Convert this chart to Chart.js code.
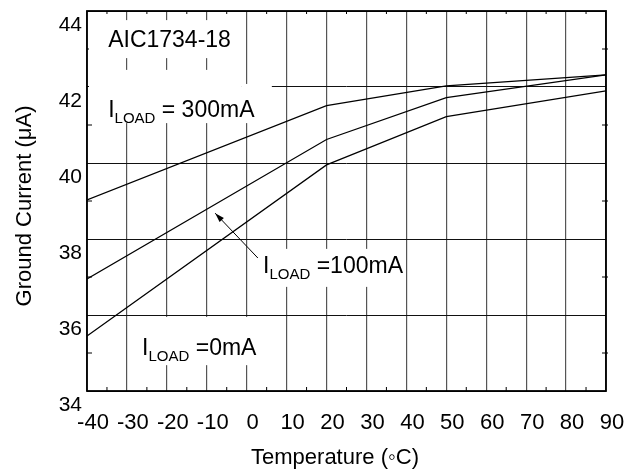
<!DOCTYPE html>
<html>
<head>
<meta charset="utf-8">
<script src="https://cdn.jsdelivr.net/npm/chart.js@4"></script>
<style>
    body { margin: 0; background: #fff; }
    canvas { display: block; }
</style>
</head>
<body>
<canvas id="grafico" width="640" height="474"></canvas>
<script>
const temperaturas = [-40, 20, 50, 90];
const corrente0mA = [35.45, 39.95, 41.22, 41.90];
const corrente100mA = [36.95, 40.62, 41.72, 42.32];
const corrente300mA = [39.03, 41.51, 42.03, 42.32];

const tituloX = "Temperature (◦C)";
const tituloY = "Ground Current (μA)";

const fonte = "Arial, 'Liberation Sans', Helvetica, sans-serif";

function pontos(valores) {
    return temperaturas.map((t, i) => ({ x: t, y: valores[i] }));
}

function serie(valores) {
    return {
        data: pontos(valores),
        borderColor: "#000",
        borderWidth: 1.2,
        pointRadius: 0,
        tension: 0,
        fill: false
    };
}

// caixas brancas atras dos textos (em unidades dos eixos)
const caixas = [
    [-39.5, -1.4, 43.76, 42.76],
    [-39.5, -1.4, 42.45, 41.05],
    [-1.4, 6.3, 42.08, 41.05],
    [1.1, 38.4, 37.74, 36.74],
    [-28, 2.3, 35.95, 34.68]
];

function textoILoad(ctx, x, y, resto) {
    ctx.font = "23px " + fonte;
    ctx.fillText("I", x, y);
    let w = ctx.measureText("I").width;
    ctx.font = "15px " + fonte;
    ctx.fillText("LOAD", x + w, y + 6);
    w += ctx.measureText("LOAD").width;
    ctx.font = "23px " + fonte;
    ctx.fillText(resto, x + w, y);
}

const anotacoes = {
    id: "anotacoes",
    beforeDatasetsDraw(chart) {
        const ctx = chart.ctx;
        const xs = chart.scales.x;
        const ys = chart.scales.y;
        const area = chart.chartArea;
        ctx.save();

        // ticks menores
        ctx.strokeStyle = "#000";
        ctx.lineWidth = 1;
        ctx.beginPath();
        for (let v = 35; v < 44; v += 2) {
            const py = ys.getPixelForValue(v);
            ctx.moveTo(area.left, py);
            ctx.lineTo(area.left + 5, py);
            ctx.moveTo(area.right - 4, py);
            ctx.lineTo(area.right + 2, py);
        }
        for (let v = -35; v < 90; v += 10) {
            const px = xs.getPixelForValue(v);
            ctx.moveTo(px, area.bottom);
            ctx.lineTo(px, area.bottom - 4);
            ctx.moveTo(px, area.top);
            ctx.lineTo(px, area.top + 3);
        }
        ctx.stroke();

        ctx.fillStyle = "#fff";
        caixas.forEach(c => {
            const x1 = xs.getPixelForValue(c[0]);
            const x2 = xs.getPixelForValue(c[1]);
            const y1 = ys.getPixelForValue(c[2]);
            const y2 = ys.getPixelForValue(c[3]);
            ctx.fillRect(x1, y1, x2 - x1, y2 - y1);
        });

        ctx.fillStyle = "#000";
        ctx.textBaseline = "alphabetic";
        ctx.textAlign = "left";
        ctx.font = "23px " + fonte;
        ctx.fillText("AIC1734-18", xs.getPixelForValue(-34.7), ys.getPixelForValue(43.05));
        textoILoad(ctx, xs.getPixelForValue(-34.7), ys.getPixelForValue(41.21), " = 300mA");
        textoILoad(ctx, xs.getPixelForValue(4.1), ys.getPixelForValue(37.1), " =100mA");
        textoILoad(ctx, xs.getPixelForValue(-26.2), ys.getPixelForValue(34.95), " =0mA");

        // seta
        const ax1 = xs.getPixelForValue(2.8), ay1 = ys.getPixelForValue(37.5);
        const ax2 = xs.getPixelForValue(-7.9), ay2 = ys.getPixelForValue(38.68);
        ctx.beginPath();
        ctx.moveTo(ax1, ay1);
        ctx.lineTo(ax2, ay2);
        ctx.stroke();
        const ang = Math.atan2(ay2 - ay1, ax2 - ax1);
        ctx.beginPath();
        ctx.moveTo(ax2, ay2);
        ctx.lineTo(ax2 - 10 * Math.cos(ang - 0.3), ay2 - 10 * Math.sin(ang - 0.3));
        ctx.lineTo(ax2 - 10 * Math.cos(ang + 0.3), ay2 - 10 * Math.sin(ang + 0.3));
        ctx.closePath();
        ctx.fill();
        ctx.restore();
    },
    afterDatasetsDraw(chart) {
        const ctx = chart.ctx;
        const area = chart.chartArea;
        ctx.save();
        ctx.strokeStyle = "#000";
        ctx.lineWidth = 1.8;
        ctx.strokeRect(area.left, area.top, area.right - area.left, area.bottom - area.top);

        // titulos dos eixos
        ctx.fillStyle = "#000";
        ctx.font = "22px " + fonte;
        ctx.textAlign = "center";
        ctx.textBaseline = "middle";
        ctx.fillText(tituloX, 335, 458);
        ctx.translate(25, 206);
        ctx.rotate(-Math.PI / 2);
        ctx.fillText(tituloY, 0, 0);
        ctx.restore();
    }
};

const grafico = new Chart(document.getElementById("grafico").getContext("2d"), {
    type: "line",
    data: {
        datasets: [serie(corrente300mA), serie(corrente100mA), serie(corrente0mA)]
    },
    options: {
        responsive: false,
        animation: false,
        devicePixelRatio: 1,
        layout: {
            padding: { left: 0, top: 11, right: 34, bottom: 0 }
        },
        plugins: {
            legend: { display: false },
            tooltip: { enabled: false }
        },
        scales: {
            x: {
                type: "linear",
                min: -40,
                max: 90,
                afterFit: scale => {
                    scale.height = 83;
                    scale.paddingLeft = 0;
                    scale.paddingRight = 0;
                },
                grid: { color: "#555", lineWidth: 1.2, drawTicks: false },
                border: { display: false },
                ticks: {
                    stepSize: 10,
                    color: "#000",
                    padding: 19,
                    labelOffset: 6,
                    maxRotation: 0,
                    font: { family: fonte, size: 22 }
                }
            },
            y: {
                min: 34,
                max: 44,
                afterFit: scale => {
                    scale.width = 87;
                    scale.paddingTop = 0;
                    scale.paddingBottom = 0;
                },
                grid: { color: "#111", lineWidth: 1, drawTicks: false },
                border: { display: false },
                ticks: {
                    stepSize: 2,
                    color: "#000",
                    padding: 5,
                    labelOffset: 14,
                    font: { family: fonte, size: 21 }
                }
            }
        }
    },
    plugins: [anotacoes]
});
</script>
</body>
</html>
